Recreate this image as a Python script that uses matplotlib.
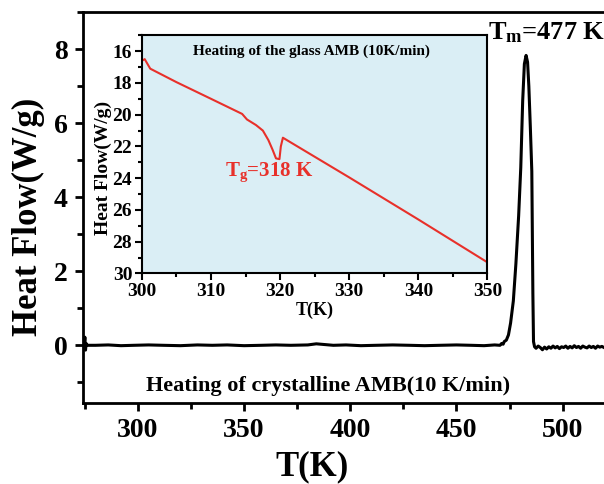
import matplotlib
matplotlib.use("Agg")
import matplotlib.pyplot as plt
from matplotlib.ticker import MultipleLocator

plt.rcParams['font.family'] = ['Liberation Serif', 'DejaVu Serif']
plt.rcParams['font.weight'] = 'bold'
plt.rcParams['mathtext.fontset'] = 'custom'
plt.rcParams['mathtext.rm'] = 'Liberation Serif:bold'
plt.rcParams['mathtext.bf'] = 'Liberation Serif:bold'
plt.rcParams['mathtext.it'] = 'Liberation Serif:bold'

# main DSC trace: crystalline AMB
main_T = [274.0, 274.6, 275.0, 275.3, 275.6, 276.2, 280, 286, 292, 298, 305, 312,
          320, 328, 335, 342, 350, 358, 365, 372, 380, 384, 388, 392, 398, 405,
          412, 420, 428, 435, 442, 450, 457, 463, 468, 470.5, 471.3, 472.0,
          472.5, 473.5, 474.5, 475.5, 476.8, 478.0, 479.3, 480.3, 481.2, 482.0,
          482.8, 483.5, 484.1, 484.8, 485.5, 486.0, 486.3, 486.8, 487.5, 488.5,
          489.5, 490.5, 491.5, 492.5, 493.5, 494.5, 495.5, 496.5, 497.5, 498.5,
          499.5, 500.5, 501.5, 502.5, 503.5, 504.5, 505.5, 506.5, 507.5, 508.5,
          509.5, 510.5, 511.5, 512.5, 513.5, 514.5, 515.5, 516.5, 517.5, 518.5,
          519.5]
main_hf = [0.0, 0.0, 0.22, -0.13, 0.05, 0.0, 0.0, 0.01, -0.01, 0.0, 0.01, 0.0,
           -0.01, 0.01, 0.0, 0.01, -0.01, 0.0, 0.01, 0.0, 0.01, 0.04, 0.02, 0.0,
           0.01, -0.01, 0.0, 0.01, 0.0, -0.01, 0.0, 0.01, 0.0, -0.01, 0.01, 0.0,
           0.05, 0.03, 0.1, 0.14, 0.28, 0.6, 1.2, 2.2, 3.5, 4.8, 6.6, 7.6,
           7.83, 7.65, 7.0, 5.9, 4.7, 1.4, 0.1, -0.04, -0.08, -0.02, -0.06, -0.12,
           -0.05, -0.1, -0.04, -0.08, -0.02, -0.07, -0.03, -0.09, -0.04, -0.06,
           -0.02, -0.08, -0.03, -0.07, -0.01, -0.06, -0.03, -0.08, -0.02, -0.05,
           -0.07, -0.02, -0.06, -0.03, -0.08, -0.02, -0.05, -0.03, -0.06]

# inset trace: glass AMB
glass_T = [300.0, 300.4, 300.8, 301.2, 305.0, 310.0, 314.5, 315.2, 316.5, 317.5,
           318.3, 318.9, 319.4, 319.9, 320.1, 320.4, 330.0, 340.0, 350.0]
glass_hf = [16.6, 16.5, 16.8, 17.1, 17.95, 19.0, 19.95, 20.3, 20.65, 21.0,
            21.6, 22.2, 22.75, 22.8, 22.0, 21.45, 23.95, 26.6, 29.3]

fig = plt.figure(figsize=(6.04, 4.84), dpi=100)
ax = fig.add_axes([0.137, 0.168, 0.863, 0.807])
ax.plot(main_T, main_hf, color='black', lw=2.2)
ax.set_xlim(274, 519.5)
ax.set_ylim(-1.55, 9)
ax.spines['right'].set_visible(False)
for s in ('left', 'bottom', 'top'):
    ax.spines[s].set_linewidth(2)
ax.xaxis.set_major_locator(MultipleLocator(50))
ax.xaxis.set_minor_locator(MultipleLocator(25))
ax.yaxis.set_major_locator(MultipleLocator(2))
ax.yaxis.set_minor_locator(MultipleLocator(1))
ax.tick_params(which='major', direction='out', length=6, width=2, labelsize=20, pad=5)
ax.tick_params(which='minor', direction='out', length=4, width=2)
ax.tick_params(top=False, right=False, which='both')
ax.set_xlabel('T(K)', fontsize=25, fontweight='bold', va='center')
ax.xaxis.set_label_coords(0.44, -0.163)
ax.set_ylabel('Heat Flow(W/g)', fontsize=25, fontweight='bold', va='center')
ax.yaxis.set_label_coords(-0.104, 0.477)
ax.text(0.47, 0.043, 'Heating of crystalline AMB(10 K/min)', transform=ax.transAxes,
        ha='center', va='center', fontsize=16, fontweight='bold')
ax.text(0.777, 0.93, r'T$_{\rm m}$=477 K', transform=ax.transAxes,
        ha='left', va='baseline', fontsize=19, fontweight='bold')

ins = fig.add_axes([0.235, 0.435, 0.572, 0.492])
ins.set_facecolor('#daeef5')
ins.plot(glass_T, glass_hf, color='#e8302a', lw=1.5)
ins.set_xlim(300, 350)
ins.set_ylim(30, 15)
for s in ins.spines.values():
    s.set_linewidth(1.5)
ins.xaxis.set_major_locator(MultipleLocator(10))
ins.xaxis.set_minor_locator(MultipleLocator(5))
ins.yaxis.set_major_locator(MultipleLocator(2))
ins.yaxis.set_minor_locator(MultipleLocator(1))
ins.tick_params(which='major', direction='out', length=5, width=1.5, labelsize=14, pad=2)
ins.tick_params(which='minor', direction='out', length=3, width=1.5)
ins.set_xlabel('T(K)', fontsize=13, fontweight='bold', labelpad=1)
ins.set_ylabel('Heat Flow(W/g)', fontsize=14, fontweight='bold', va='center')
ins.yaxis.set_label_coords(-0.113, 0.445)
ins.text(0.49, 0.932, 'Heating of the glass AMB (10K/min)', transform=ins.transAxes,
         ha='center', va='center', fontsize=11, fontweight='bold')
ins.text(312.0, 23.6, r'T$_{\rm g}$=318 K', color='#e8302a', ha='left', va='center',
         fontsize=15, fontweight='bold')

fig.savefig('out.png', dpi=100)
